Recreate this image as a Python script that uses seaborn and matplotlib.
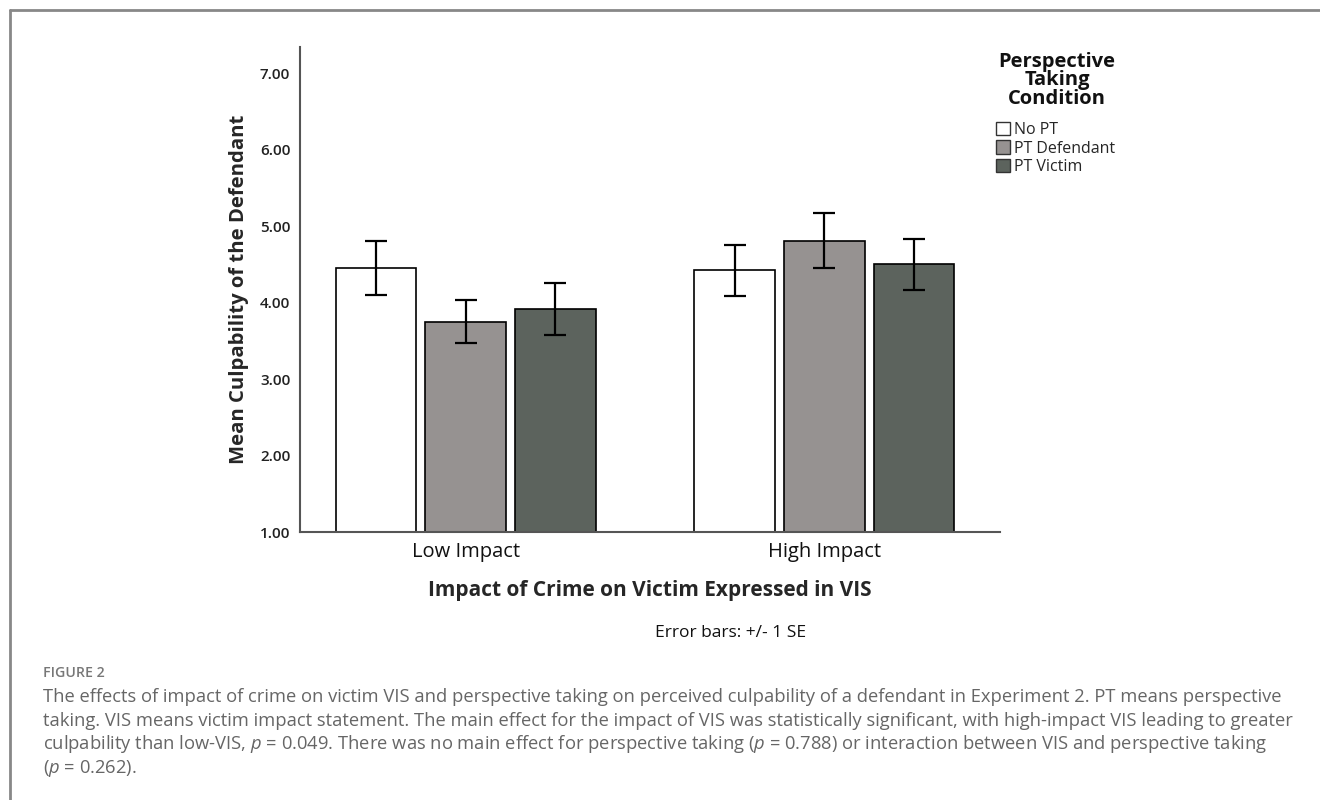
import pandas as pd
import matplotlib
matplotlib.use("Agg")
from matplotlib import pyplot as plt
from matplotlib.lines import Line2D
import seaborn as sns

impacts = ["Low Impact", "High Impact"]
conditions = ["No PT", "PT Defendant", "PT Victim"]
means_no_pt = [4.45, 4.42]
means_pt_def = [3.75, 4.81]
means_pt_vic = [3.92, 4.50]
se_no_pt = [0.35, 0.33]
se_pt_def = [0.28, 0.36]
se_pt_vic = [0.34, 0.33]
colors = ["#ffffff", "#979190", "#5b645c"]

rows = []
for cond, m, s in zip(conditions, [means_no_pt, means_pt_def, means_pt_vic],
                      [se_no_pt, se_pt_def, se_pt_vic]):
    for imp, mv, sv in zip(impacts, m, s):
        rows.append({"impact": imp, "condition": cond, "mean": mv, "se": sv})
df = pd.DataFrame(rows)

sns.set_style("white")
plt.rcParams["font.family"] = ["Open Sans", "DejaVu Sans"]
plt.rcParams["mathtext.fontset"] = "custom"
plt.rcParams["mathtext.it"] = "Open Sans:italic"
plt.rcParams["mathtext.rm"] = "Open Sans"

fig = plt.figure(figsize=(13.2, 8), dpi=100)
ax = fig.add_axes([300 / 1320, 1 - 532 / 800, 700 / 1320, 485 / 800])

sns.barplot(
    data=df, x="impact", y="mean", hue="condition",
    order=impacts, hue_order=conditions, palette=colors,
    edgecolor="black", linewidth=1.2, width=0.75, gap=0.1,
    errorbar=None, ax=ax,
)

# error bars (+/- 1 SE) on top of each bar
for cont, cond in zip(ax.containers, conditions):
    sub = df[df["condition"] == cond].set_index("impact").loc[impacts]
    xs = [p.get_x() + p.get_width() / 2 for p in cont]
    ax.errorbar(xs, sub["mean"], yerr=sub["se"], fmt="none", ecolor="black",
                elinewidth=1.6, capsize=7.8, capthick=1.6, zorder=5)

ax.set_ylim(1, 7.34)
ax.set_xlim(-0.462, 1.49)
ax.set_yticks([1, 2, 3, 4, 5, 6, 7])
ax.set_yticklabels([f"{v:.2f}" for v in [1, 2, 3, 4, 5, 6, 7]])
ax.tick_params(axis="y", length=0, labelsize=11, labelcolor="#222222", pad=7)
ax.tick_params(axis="x", length=0, labelsize=14.5, labelcolor="#111111", pad=7)
for lbl in ax.get_yticklabels():
    lbl.set_fontweight("semibold")
for s in ["top", "right"]:
    ax.spines[s].set_visible(False)
for s in ["left", "bottom"]:
    ax.spines[s].set_color("#555555")
    ax.spines[s].set_linewidth(1.5)

ax.set_ylabel("Mean Culpability of the Defendant", fontsize=14.6,
              fontweight="bold", labelpad=8)
ax.set_xlabel("Impact of Crime on Victim Expressed in VIS", fontsize=15,
              fontweight="bold", labelpad=13)

handles = ax.get_legend_handles_labels()[0]
leg = ax.legend(
    handles, conditions,
    loc="upper left", bbox_to_anchor=(996 / 1320, 1 - 122 / 800),
    bbox_transform=fig.transFigure, frameon=False, fontsize=11.5,
    handlelength=0.9, handleheight=0.9, handletextpad=0.25,
    labelspacing=0.14, borderpad=0, borderaxespad=0,
)
for h in leg.legend_handles:
    h.set_edgecolor("#333333")
    h.set_linewidth(1.0)
fig.text(1057 / 1320, 1 - 80 / 800, "Perspective\nTaking\nCondition",
         fontsize=14.5, fontweight="bold", ha="center", va="center",
         multialignment="center", linespacing=0.9, color="#111111")

fig.text(731 / 1320, 1 - 633 / 800, "Error bars: +/- 1 SE", fontsize=12.5,
         ha="center", va="center", color="#111111")

# caption
fig.text(43 / 1320, 1 - 673 / 800, "FIGURE 2", fontsize=10.2, color="#777777",
         ha="left", va="center", fontweight="semibold")
caption = [
    "The effects of impact of crime on victim VIS and perspective taking on perceived culpability of a defendant in Experiment 2. PT means perspective",
    "taking. VIS means victim impact statement. The main effect for the impact of VIS was statistically significant, with high-impact VIS leading to greater",
    "culpability than low-VIS, $p$ = 0.049. There was no main effect for perspective taking ($p$ = 0.788) or interaction between VIS and perspective taking",
    "($p$ = 0.262).",
]
for i, line in enumerate(caption):
    fig.text(43 / 1320, 1 - (697 + 23.7 * i) / 800, line, fontsize=13.2,
             color="#666666", ha="left", va="center")

# figure frame (top and left rules)
fig.add_artist(Line2D([10 / 1320, 1], [1 - 10 / 800, 1 - 10 / 800],
                      transform=fig.transFigure, color="#888888", lw=2))
fig.add_artist(Line2D([10 / 1320, 10 / 1320], [0, 1 - 10 / 800],
                      transform=fig.transFigure, color="#888888", lw=2))

fig.savefig("out.png", dpi=100)
